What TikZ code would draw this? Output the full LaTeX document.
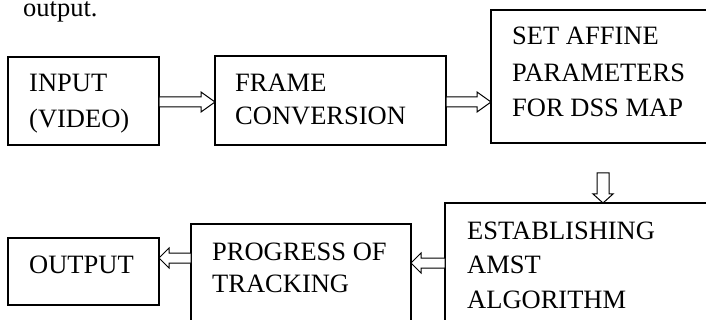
\documentclass[tikz,border=0pt]{standalone}
\usepackage{fontspec}
\setmainfont{Liberation Serif}
\usetikzlibrary{calc}
\tikzset{
  box/.style={draw, line width=1.2pt, inner sep=0pt, outer sep=0pt, anchor=north west, fill=none},
  txt/.style={anchor=base west, inner sep=0pt, font=\fontsize{26.5}{30}\selectfont},
  blk/.style={draw, line width=1pt, fill=white, line join=miter},
}
\newcommand{\harrow}[3]{%
  \draw[blk] let \p1=(#1), \p2=(#2), \n1={(\x2>\x1)*2-1} in
  (\x1,\y1+5pt) -- (\x2-\n1*#3,\y1+5pt) -- (\x2-\n1*#3,\y1+10pt) -- (\x2,\y1)
  -- (\x2-\n1*#3,\y1-10pt) -- (\x2-\n1*#3,\y1-5pt) -- (\x1,\y1-5pt) -- cycle;}
\begin{document}
\begin{tikzpicture}[x=1pt,y=-1pt]
\useasboundingbox (0,0) rectangle (706,320);
\clip (0,0) rectangle (706,320);
\node[txt] (top) at (23,17) {output.};
% boxes
\node[box, minimum width=151pt, minimum height=88pt] (b1) at (8,57) {};
\node[box, minimum width=231pt, minimum height=89pt] (b2) at (215,56) {};
\node[box, minimum width=240pt, minimum height=133pt] (b3) at (491,10) {};
\node[box, minimum width=280pt, minimum height=140pt] (b4) at (445,203) {};
\node[box, minimum width=220pt, minimum height=120pt] (b5) at (191,224) {};
\node[box, minimum width=151pt, minimum height=67pt] (b6) at (8,238) {};
% texts
\node[txt] (t1a) at (29,92) {INPUT};
\node[txt] (t1b) at (29,128) {(VIDEO)};
\node[txt] (t2a) at (235,92) {FRAME};
\node[txt] (t2b) at (235,125) {CONVERSION};
\node[txt] (t3a) at (512,45) {SET AFFINE};
\node[txt] (t3b) at (512,82) {PARAMETERS};
\node[txt] (t3c) at (512,117) {FOR DSS MAP};
\node[txt] (t4a) at (467,240) {ESTABLISHING};
\node[txt] (t4b) at (467,273) {AMST};
\node[txt] (t4c) at (467,308) {ALGORITHM};
\node[txt] (t5a) at (212,261) {PROGRESS OF};
\node[txt] (t5b) at (212,292) {TRACKING};
\node[txt] (t6a) at (29,273) {OUTPUT};
% arrows
\coordinate (a1s) at (159,102);
\coordinate (a2s) at (446,102);
\coordinate (a3s) at (603,173);
\coordinate (a4s) at (445,263);
\coordinate (a5s) at (191,258);
\harrow{a1s}{b2.west}{14pt}
\harrow{a2s}{b3.west}{14pt}
\harrow{a4s}{b5.east}{10pt}
\harrow{a5s}{b6.east}{10pt}
\draw[blk] let \p1=(a3s), \p2=(b4.north west) in
  (\x1-6pt,\y1) -- (\x1-6pt,\y2+9pt) -- (\x1-10pt,\y2+9pt) -- (\x1,\y2)
  -- (\x1+10pt,\y2+9pt) -- (\x1+6pt,\y2+9pt) -- (\x1+6pt,\y1) -- cycle;
\end{tikzpicture}
\end{document}
